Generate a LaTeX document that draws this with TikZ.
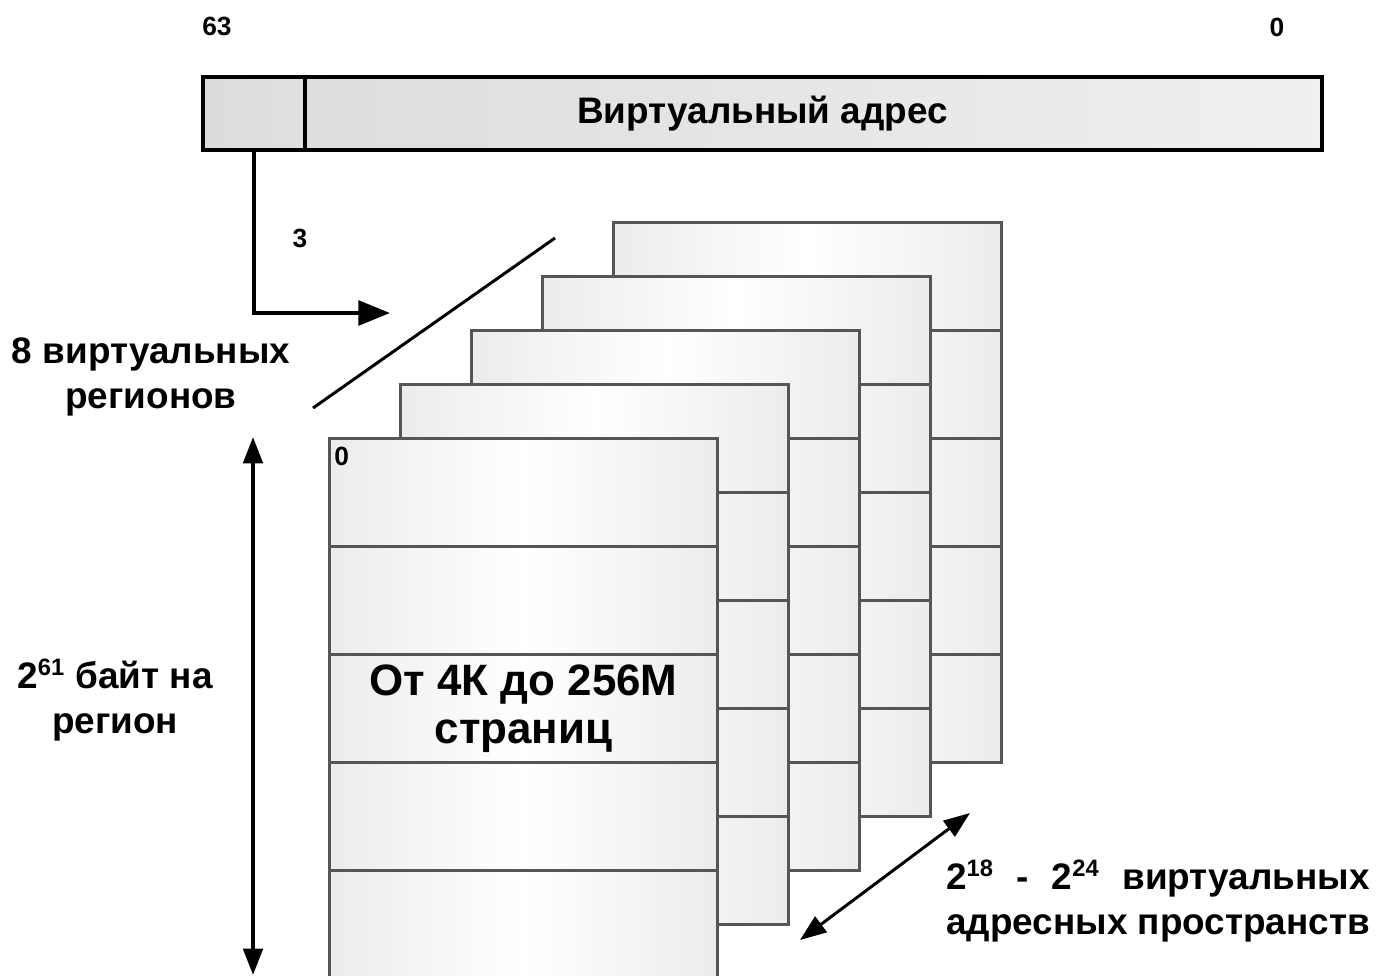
\documentclass[tikz,border=0pt]{standalone}
\usepackage{fontspec}
\setmainfont{Liberation Sans}
\usetikzlibrary{arrows.meta}
\definecolor{pageedge}{HTML}{555555}
\pgfdeclarehorizontalshading{pageshade}{100bp}{color(0bp)=(black!15); color(50bp)=(white); color(100bp)=(black!15)}
\newcommand\pwr[1]{\textsuperscript{\fontsize{13.5}{13.5}\selectfont#1}}
\newlength\aswidth
\begin{document}
\begin{tikzpicture}[
    x=0.02cm, y=-0.02cm,
    every node/.style={font=\bfseries\fontsize{21}{25.5}\selectfont, align=center},
    field/.style={draw, line width=1.9pt, minimum height=1.46cm, inner sep=0},
    cell/.style={draw=pageedge, line width=1.8pt, shading=pageshade, minimum width=7.76cm, minimum height=2.16cm, anchor=north west, inner sep=0},
    small/.style={font=\bfseries\fontsize{15}{18}\selectfont},
    arr/.style={line width=2.3pt, -{Triangle[length=18pt, width=14pt]}},
    dblarr/.style={line width=2.3pt, {Triangle[length=15pt, width=11pt]}-{Triangle[length=15pt, width=11pt]}}
  ]
  \useasboundingbox (0,0) rectangle (1377,975);
  % stack of region pages, back to front
  \foreach \k in {4,3,2,1,0} {
    \foreach \r in {1,...,5} {
      \node[cell] (p\k-\r) at (328+71*\k, 437-54*\k+108*\r-108) {};
    }
  }
  \node[font=\bfseries\fontsize{25}{27}\selectfont] (pages) at (p0-3) {От 4К до 256М\\страниц};
  \node[anchor=north west, inner xsep=0.12cm, inner ysep=0.2cm, small] (zero) at (p0-1.north west) {0};

  % virtual address
  \node[field, minimum width=22.38cm, left color=black!14, right color=black!6] (vaddr) at (762.5,113.5) {Виртуальный адрес};
  \node[field, minimum width=2.04cm, anchor=west, left color=black!14, right color=black!12] (sel) at (vaddr.west) {};
  \node[small] (msb) at (217,26) {63};
  \node[small] (lsb) at (1277,27) {0};

  \coordinate (regtip) at (390,313);
  \draw[arr] (sel.south) |- (regtip);
  \node[small] (bits) at (300,238) {3};
  \coordinate (slasha) at (313,408);
  \coordinate (slashb) at (555,238);
  \draw[line width=1.7pt] (slasha) -- (slashb);
  \node (regions) at (151,377) {8 виртуальных\\регионов};

  \coordinate (sizetop) at (253,437);
  \coordinate (sizebot) at (253,975);
  \draw[dblarr] (sizetop) -- (sizebot);
  \node (regsize) at (115,700) {2\pwr{61} байт на\\регион};

  \coordinate (spacea) at (800,940);
  \coordinate (spaceb) at (970,813);
  \draw[dblarr, line width=1.7pt] (spacea) -- (spaceb);
  \node[anchor=west, align=left] (spaces) at (940,901) {\settowidth{\aswidth}{адресных пространств}\makebox[\aswidth][l]{2\pwr{18}\hfill-\hfill2\pwr{24}\hfill виртуальных}\\адресных пространств};
\end{tikzpicture}
\end{document}
